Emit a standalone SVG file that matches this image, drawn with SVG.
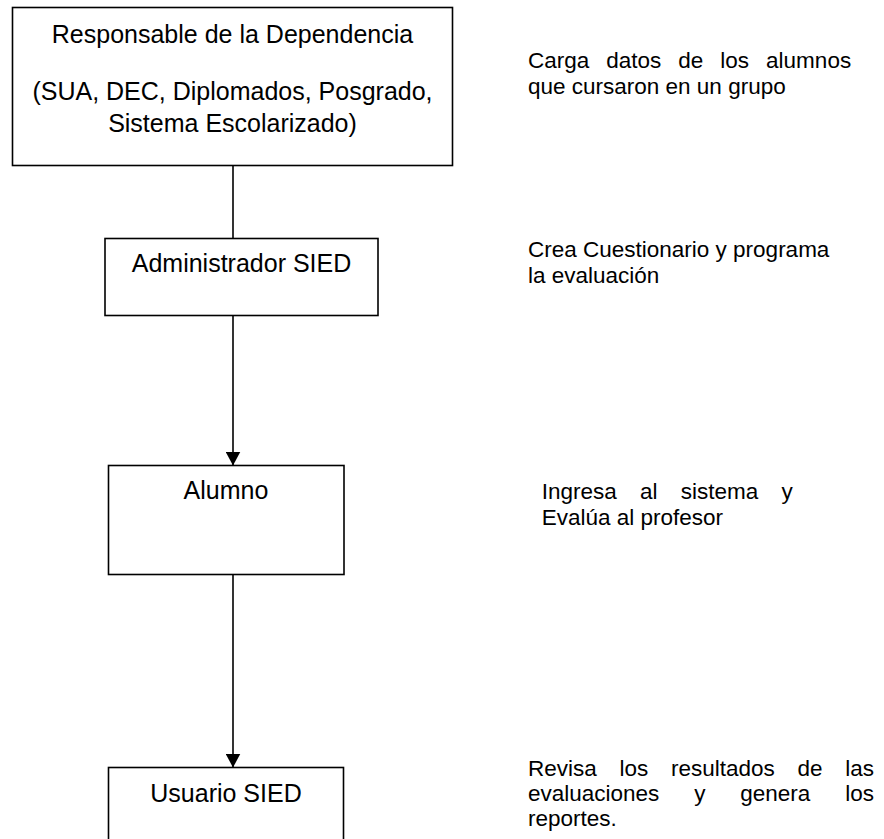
<svg xmlns="http://www.w3.org/2000/svg" width="884" height="839" viewBox="0 0 884 839">
<style>
.box{fill:#fff;stroke:#000;stroke-width:1.6}
.lbl{font-family:"Liberation Sans",Arial,sans-serif;font-size:25px;fill:#000;text-anchor:middle}
.note{font-family:"Liberation Sans",Arial,sans-serif;font-size:22.5px;fill:#000}
.conn{stroke:#000;stroke-width:1.6;fill:none}
</style>
<defs>
<marker id="arr" markerUnits="userSpaceOnUse" markerWidth="15" markerHeight="15" refX="14" refY="7.5" orient="auto">
<path d="M0,0 L14,7.5 L0,15 z" fill="#000"/>
</marker>
</defs>
<rect width="884" height="839" fill="#fff"/>
<g id="connectors">
<line class="conn" x1="233" y1="165.5" x2="233" y2="238.5"/>
<line class="conn" x1="233" y1="315.5" x2="233" y2="465.5" marker-end="url(#arr)"/>
<line class="conn" x1="233" y1="574.5" x2="233" y2="767.5" marker-end="url(#arr)"/>
</g>
<g id="responsable">
<rect class="box" x="12.5" y="7.5" width="440" height="158"/>
<text class="lbl" x="232.5" y="43">Responsable de la Dependencia</text>
<text class="lbl" x="232.5" y="100">(SUA, DEC, Diplomados, Posgrado,</text>
<text class="lbl" x="232.5" y="132">Sistema Escolarizado)</text>
</g>
<g id="administrador">
<rect class="box" x="105" y="238.5" width="273" height="77"/>
<text class="lbl" x="241.5" y="272">Administrador SIED</text>
</g>
<g id="alumno">
<rect class="box" x="108.5" y="465.5" width="235.5" height="109"/>
<text class="lbl" x="226" y="498.5">Alumno</text>
</g>
<g id="usuario">
<rect class="box" x="108.5" y="767.5" width="235" height="100"/>
<text class="lbl" x="226" y="802">Usuario SIED</text>
</g>
<g id="note1">
<text class="note" y="68"><tspan x="528">Carga</tspan><tspan x="606.3">datos</tspan><tspan x="678.3">de</tspan><tspan x="720.3">los</tspan><tspan x="766.1">alumnos</tspan></text>
<text class="note" x="528" y="94">que cursaron en un grupo</text>
</g>
<g id="note2">
<text class="note" x="528" y="257">Crea Cuestionario y programa</text>
<text class="note" x="528" y="283">la evaluación</text>
</g>
<g id="note3">
<text class="note" y="499"><tspan x="541.7">Ingresa</tspan><tspan x="640">al</tspan><tspan x="680.8">sistema</tspan><tspan x="781.6">y</tspan></text>
<text class="note" x="541.7" y="525">Evalúa al profesor</text>
</g>
<g id="note4">
<text class="note" y="776"><tspan x="528">Revisa</tspan><tspan x="619.5">los</tspan><tspan x="671">resultados</tspan><tspan x="797.5">de</tspan><tspan x="845.2">las</tspan></text>
<text class="note" y="801"><tspan x="528">evaluaciones</tspan><tspan x="694.2">y</tspan><tspan x="740.3">genera</tspan><tspan x="845.2">los</tspan></text>
<text class="note" x="528" y="826">reportes.</text>
</g>
</svg>
